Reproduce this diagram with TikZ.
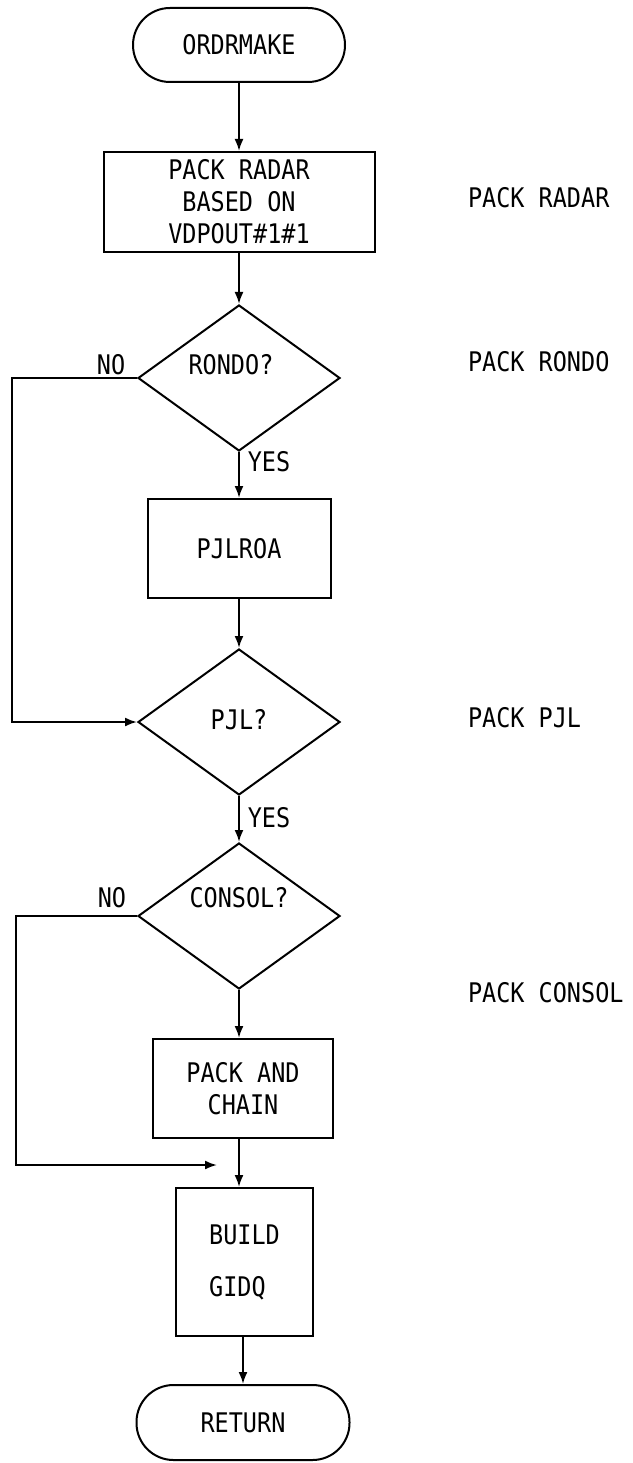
\documentclass[tikz,border=0pt]{standalone}
\usepackage{fontspec}
\newfontfamily\lblfont[FakeStretch=0.87]{DejaVu Sans Mono}
\usetikzlibrary{shapes.geometric,arrows.meta}
\begin{document}
\begin{tikzpicture}[x=1pt,y=-1pt, line width=2pt,
  every node/.style={font=\lblfont\fontsize{27}{32}\selectfont},
  term/.style={draw, rounded corners=37pt, minimum width=212pt, minimum height=74pt, inner sep=0pt},
  proc/.style={draw, inner sep=0pt, align=center},
  dec/.style={draw, diamond, minimum width=202pt, minimum height=146pt, inner sep=0pt},
  txt/.style={inner sep=0pt},
  arr/.style={-{Latex[length=12pt,width=9pt]}}]
\useasboundingbox (0,0) rectangle (632,1463);

% main nodes
\node[term] (start) at (239,45) {ORDRMAKE};
\node[proc, minimum width=271pt, minimum height=100pt] (radar) at (239,202) {PACK RADAR\\BASED ON\\VDPOUT\#1\#1};
\node[dec] (d1) at (239,378) {};
\node[proc, minimum width=183pt, minimum height=99pt] (roa) at (239,548.5) {PJLROA};
\node[dec] (d2) at (239,722) {};
\node[dec] (d3) at (239,916) {};
\node[proc, minimum width=180pt, minimum height=99pt] (chain) at (243,1088.5) {PACK AND\\CHAIN};
\node[proc, minimum width=137pt, minimum height=148pt, align=left] (build) at (244.5,1262) {BUILD\\[20pt]GIDQ};
\node[term, minimum width=213pt, minimum height=75pt] (ret) at (243,1422.5) {RETURN};

% decision texts
\node[txt] (t1) at (231,365) {RONDO?};
\node[txt] (t2) at (239,720) {PJL?};
\node[txt] (t3) at (239,898) {CONSOL?};

% branch labels
\node[txt] (no1) at (111,365) {NO};
\node[txt] (no2) at (112,898) {NO};
\node[txt] (yes1) at (269,462) {YES};
\node[txt] (yes2) at (269,818) {YES};

% side notes
\node[txt, anchor=west] (n1) at (467,198) {PACK RADAR};
\node[txt, anchor=west] (n2) at (467,362) {PACK RONDO};
\node[txt, anchor=west] (n3) at (467,718) {PACK PJL};
\node[txt, anchor=west] (n4) at (467,993) {PACK CONSOL};

% helper coordinates
\coordinate (l1) at (12,378);
\coordinate (l2) at (16,916);
\coordinate (m) at (217,1165);

% connectors
\draw[arr] (start) -- (radar);
\draw[arr] (radar) -- (d1);
\draw[arr] (d1) -- (roa);
\draw[arr] (roa) -- (d2);
\draw[arr] (d1.west) -- (l1) |- (d2.west);
\draw[arr] (d2) -- (d3);
\draw[arr] (d3.south) -- (d3.south |- chain.north);
\draw[arr] (d3.south |- chain.south) -- (d3.south |- build.north);
\draw[arr] (d3.west) -- (l2) |- (m);
\draw[arr] (ret.north |- build.south) -- (ret.north);
\end{tikzpicture}
\end{document}
